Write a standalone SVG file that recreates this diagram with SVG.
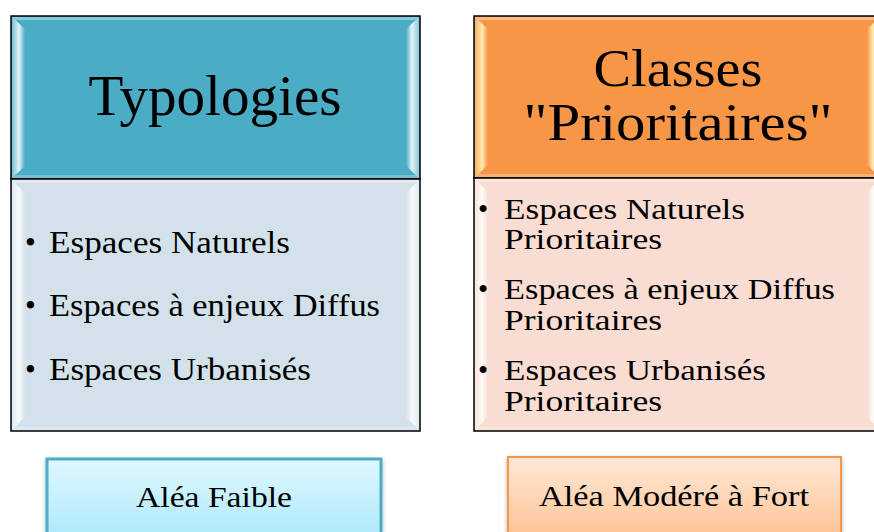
<svg xmlns="http://www.w3.org/2000/svg" width="874" height="532" viewBox="0 0 874 532">
<defs>
<style>
.t{font-family:"Liberation Serif","Times New Roman",serif;fill:#000}
.box{stroke:#000;stroke-width:1.5}
.top{fill:#fff;opacity:0.35}
.bot{fill:#fff;opacity:0.25}
</style>
<linearGradient id="lw" x1="0" y1="0" x2="1" y2="0"><stop offset="0" stop-color="#fff" stop-opacity="0.25"/><stop offset="0.55" stop-color="#fff" stop-opacity="0.85"/><stop offset="1" stop-color="#fff" stop-opacity="0"/></linearGradient>
<linearGradient id="rw" x1="0" y1="0" x2="1" y2="0"><stop offset="0" stop-color="#fff" stop-opacity="0"/><stop offset="0.45" stop-color="#fff" stop-opacity="0.85"/><stop offset="1" stop-color="#fff" stop-opacity="0.35"/></linearGradient>
<linearGradient id="ly" x1="0" y1="0" x2="1" y2="0"><stop offset="0" stop-color="#FFF2B0" stop-opacity="0.3"/><stop offset="0.55" stop-color="#FFF4C0" stop-opacity="0.9"/><stop offset="1" stop-color="#FFF4C0" stop-opacity="0"/></linearGradient>
<linearGradient id="ry" x1="0" y1="0" x2="1" y2="0"><stop offset="0" stop-color="#FFF4C0" stop-opacity="0"/><stop offset="0.45" stop-color="#FFF4C0" stop-opacity="0.9"/><stop offset="1" stop-color="#FFF2B0" stop-opacity="0.4"/></linearGradient>
<linearGradient id="gb" x1="0" y1="0" x2="0" y2="1"><stop offset="0" stop-color="#E0F8FF"/><stop offset="1" stop-color="#A6E6FA"/></linearGradient>
<linearGradient id="go" x1="0" y1="0" x2="0" y2="1"><stop offset="0" stop-color="#FFE9D8"/><stop offset="1" stop-color="#FFBF8C"/></linearGradient>
<filter id="ds" x="-5%" y="-10%" width="110%" height="130%"><feDropShadow dx="0" dy="2" stdDeviation="2" flood-color="#000" flood-opacity="0.3"/></filter>
</defs>
<g id="typologies-header">
<rect class="box" x="11" y="16" width="409" height="163" fill="#4BACC6"/>
<polygon class="top" points="12,17 419,17 416,20 15,20"/>
<polygon fill="url(#lw)" points="12,17 25,29 25,166 12,178"/>
<polygon fill="url(#rw)" points="419,17 406,29 406,166 419,178"/>
<polygon class="bot" points="12,178 15,175 416,175 419,178"/>
<text class="t" x="215" y="115" font-size="57" text-anchor="middle" textLength="253" lengthAdjust="spacingAndGlyphs">Typologies</text>
</g>
<g id="typologies-list">
<rect class="box" x="11" y="179" width="409" height="252" fill="#D3E2EA"/>
<polygon class="top" points="12,180 419,180 416,183 15,183"/>
<polygon fill="url(#lw)" points="12,180 25,193 25,417 12,430"/>
<polygon fill="url(#rw)" points="419,180 406,193 406,417 419,430"/>
<polygon class="bot" points="12,430 15,427 416,427 419,430"/>
<g class="t" font-size="31">
<text x="25" y="253">•</text><text x="49" y="253" textLength="241" lengthAdjust="spacingAndGlyphs">Espaces Naturels</text>
<text x="25" y="316">•</text><text x="49" y="316" textLength="331" lengthAdjust="spacingAndGlyphs">Espaces à enjeux Diffus</text>
<text x="25" y="380">•</text><text x="49" y="380" textLength="262" lengthAdjust="spacingAndGlyphs">Espaces Urbanisés</text>
</g>
</g>
<g id="classes-header">
<rect class="box" x="474" y="16" width="410" height="162" fill="#F79646"/>
<polygon class="top" points="475,17 884,17 884,20 478,20"/>
<polygon fill="url(#ly)" points="475,17 488,29 488,165 475,177"/>
<polygon fill="url(#ry)" points="880,17 867,29 867,165 880,177"/>
<polygon class="bot" points="475,177 478,174 884,174 884,177"/>
<text class="t" x="678" y="86" font-size="53" text-anchor="middle" textLength="169" lengthAdjust="spacingAndGlyphs">Classes</text>
<text class="t" x="678" y="140" font-size="53" text-anchor="middle" textLength="309" lengthAdjust="spacingAndGlyphs">"Prioritaires"</text>
</g>
<g id="classes-list">
<rect class="box" x="474" y="178" width="410" height="253" fill="#F9DDD2"/>
<polygon class="top" points="475,179 884,179 884,182 478,182"/>
<polygon fill="url(#lw)" points="475,179 488,192 488,417 475,430"/>
<polygon fill="url(#rw)" points="880,179 867,192 867,417 880,430"/>
<polygon class="bot" points="475,430 478,427 884,427 884,430"/>
<g class="t" font-size="29">
<text x="478" y="219">•</text><text x="504" y="219" textLength="241" lengthAdjust="spacingAndGlyphs">Espaces Naturels</text>
<text x="504" y="249" textLength="158" lengthAdjust="spacingAndGlyphs">Prioritaires</text>
<text x="478" y="299">•</text><text x="504" y="299" textLength="331" lengthAdjust="spacingAndGlyphs">Espaces à enjeux Diffus</text>
<text x="504" y="330" textLength="158" lengthAdjust="spacingAndGlyphs">Prioritaires</text>
<text x="478" y="380">•</text><text x="504" y="380" textLength="262" lengthAdjust="spacingAndGlyphs">Espaces Urbanisés</text>
<text x="504" y="411" textLength="158" lengthAdjust="spacingAndGlyphs">Prioritaires</text>
</g>
</g>
<g id="alea-faible">
<rect x="47" y="459" width="334" height="90" fill="url(#gb)" stroke="#4BACC6" stroke-width="3" filter="url(#ds)"/>
<text class="t" x="214" y="507" font-size="30" text-anchor="middle" textLength="156" lengthAdjust="spacingAndGlyphs">Aléa Faible</text>
</g>
<g id="alea-modere-fort">
<rect x="508" y="457" width="333" height="90" fill="url(#go)" stroke="#F79646" stroke-width="2" filter="url(#ds)"/>
<text class="t" x="674" y="506" font-size="30" text-anchor="middle" textLength="270" lengthAdjust="spacingAndGlyphs">Aléa Modéré à Fort</text>
</g>
<g id="connectors"></g>
</svg>
